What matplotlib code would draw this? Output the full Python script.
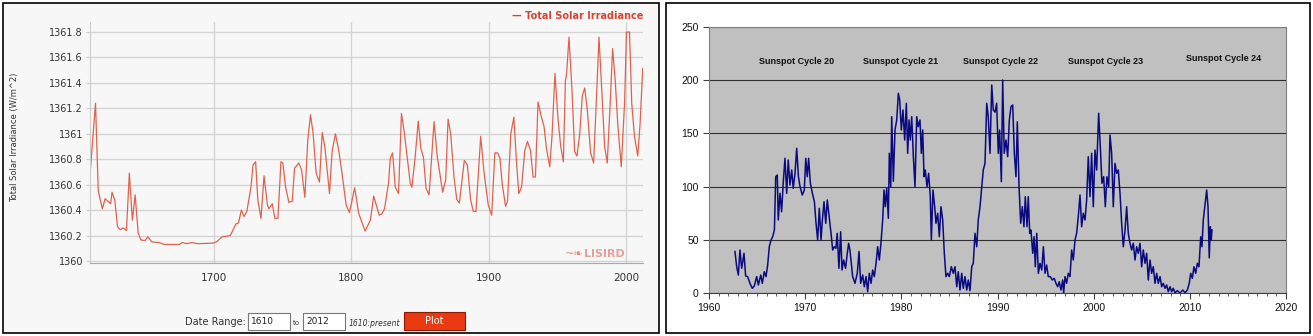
import matplotlib
matplotlib.use("Agg")
import matplotlib.pyplot as plt
from matplotlib.patches import Rectangle
from matplotlib.ticker import MultipleLocator, FuncFormatter

# ---- left panel: total solar irradiance (LISIRD) ----
tsi_year = [1610, 1614, 1616, 1619, 1621, 1623, 1625, 1626, 1628, 1630, 1632, 1634, 1636.5,
            1638.6, 1640.8, 1642.8, 1645, 1647, 1650, 1652, 1655, 1660, 1664, 1670, 1675,
            1677, 1680, 1684, 1689, 1699, 1702, 1706, 1710, 1712, 1716, 1718, 1720, 1722,
            1724, 1727, 1728.5, 1730.4, 1732, 1734.3, 1736.5, 1739, 1740, 1742.5, 1744.4,
            1746.6, 1748.8, 1750.2, 1752.2, 1754.6, 1757, 1758.7, 1761.8, 1763.8, 1766.2,
            1768.3, 1770.3, 1772.2, 1774.4, 1776.8, 1778.8, 1780.7, 1784.1, 1786, 1788.4,
            1790.8, 1793.2, 1796.2, 1798.6, 1802.4, 1805.3, 1810, 1813.8, 1816.2, 1820.3,
            1822.2, 1824.1, 1827, 1828.3, 1830, 1831.9, 1834.3, 1836.4, 1838.6, 1842.8,
            1844, 1846.4, 1848.6, 1850.5, 1852.4, 1854.3, 1856.5, 1860.1, 1862.5, 1866.4,
            1868.6, 1870.3, 1872.2, 1874.6, 1876.6, 1878.5, 1882.1, 1884.3, 1886.7, 1888.6,
            1890.6, 1894, 1896.4, 1899.5, 1902, 1904.3, 1906.3, 1908, 1909.6, 1912.1,
            1913.5, 1915.9, 1918.1, 1920.1, 1921.7, 1923.7, 1926.1, 1928, 1930.2, 1932.1,
            1933.8, 1935.7, 1938.2, 1940.1, 1941.8, 1944.2, 1945.9, 1948, 1950.2, 1952.2,
            1954.1, 1955.6, 1956.5, 1958.2, 1960.4, 1962.3, 1964, 1966, 1967.9, 1969.6,
            1971.5, 1973.9, 1976.1, 1978, 1980, 1982.1, 1984.1, 1986, 1988.2, 1989.9,
            1991.8, 1993.7, 1996.2, 1998.6, 2000, 2002.2, 2003.8, 2005.8, 2008.2, 2009.9,
            2011.8]
tsi_val = [1360.68, 1361.24, 1360.55, 1360.41, 1360.49, 1360.47, 1360.45, 1360.54, 1360.48,
           1360.27, 1360.245, 1360.26, 1360.24, 1360.69, 1360.32, 1360.52, 1360.22, 1360.165,
           1360.16, 1360.19, 1360.15, 1360.145, 1360.13, 1360.13, 1360.13, 1360.145, 1360.136,
           1360.144, 1360.136, 1360.14, 1360.15, 1360.19, 1360.196, 1360.2, 1360.29, 1360.30,
           1360.40, 1360.35, 1360.39, 1360.58, 1360.755, 1360.78, 1360.48, 1360.335, 1360.67,
           1360.44, 1360.41, 1360.45, 1360.335, 1360.335, 1360.78, 1360.77, 1360.58, 1360.46,
           1360.47, 1360.73, 1360.77, 1360.715, 1360.50, 1360.95, 1361.15, 1361.00, 1360.69,
           1360.62, 1361.01, 1360.90, 1360.53, 1360.86, 1361.00, 1360.87, 1360.69, 1360.44,
           1360.38, 1360.575, 1360.375, 1360.235, 1360.32, 1360.51, 1360.36, 1360.37, 1360.41,
           1360.61, 1360.81, 1360.85, 1360.58, 1360.53, 1361.16, 1361.00, 1360.61, 1360.58,
           1360.82, 1361.10, 1360.885, 1360.815, 1360.57, 1360.52, 1361.095, 1360.815, 1360.54,
           1360.64, 1361.115, 1361.00, 1360.66, 1360.485, 1360.455, 1360.79, 1360.755, 1360.48,
           1360.39, 1360.39, 1360.98, 1360.70, 1360.44, 1360.36, 1360.85, 1360.85, 1360.81,
           1360.61, 1360.43, 1360.47, 1361.00, 1361.13, 1360.77, 1360.53, 1360.58, 1360.87,
           1360.94, 1360.87, 1360.66, 1360.66, 1361.25, 1361.13, 1361.055, 1360.885, 1360.74,
           1360.99, 1361.475, 1361.12, 1360.90, 1360.78, 1361.42, 1361.475, 1361.76, 1361.34,
           1360.86, 1360.825, 1361.00, 1361.30, 1361.36, 1361.19, 1360.85, 1360.77, 1361.24,
           1361.76, 1361.33, 1360.90, 1360.77, 1361.25, 1361.67, 1361.42, 1361.07, 1360.74,
           1361.24, 1361.80, 1361.80, 1361.24, 1360.98, 1360.825, 1361.08, 1361.515]
tsi_ticks_y = [1360, 1360.2, 1360.4, 1360.6, 1360.8, 1361, 1361.2, 1361.4, 1361.6, 1361.8]
tsi_ticks_x = [1700, 1800, 1900, 2000]

# ---- right panel: monthly sunspot number ----
ss_year = [1962.70, 1962.88, 1963.05, 1963.22, 1963.40, 1963.64, 1963.81, 1964.02, 1964.26,
           1964.50, 1964.71, 1964.96, 1965.13, 1965.38, 1965.54, 1965.75, 1965.93, 1966.10,
           1966.27, 1966.45, 1966.62, 1966.80, 1966.94, 1967.10, 1967.20, 1967.38, 1967.55,
           1967.73, 1967.90, 1968.08, 1968.24, 1968.42, 1968.60, 1968.76, 1968.94, 1969.12,
           1969.30, 1969.47, 1969.70, 1969.91, 1970.06, 1970.22, 1970.36, 1970.54, 1970.75,
           1970.96, 1971.13, 1971.30, 1971.47, 1971.65, 1971.79, 1971.96, 1972.14, 1972.30,
           1972.48, 1972.69, 1972.86, 1973.03, 1973.20, 1973.33, 1973.51, 1973.69, 1973.83,
           1974.00, 1974.20, 1974.38, 1974.52, 1974.66, 1974.94, 1975.18, 1975.42, 1975.60,
           1975.77, 1975.98, 1976.15, 1976.33, 1976.50, 1976.67, 1976.85, 1977.02, 1977.19,
           1977.37, 1977.54, 1977.71, 1977.88, 1978.06, 1978.20, 1978.33, 1978.48, 1978.65,
           1978.75, 1978.90, 1979.00, 1979.17, 1979.34, 1979.52, 1979.69, 1979.83, 1980.00,
           1980.17, 1980.35, 1980.52, 1980.66, 1980.80, 1980.93, 1981.08, 1981.25, 1981.42,
           1981.60, 1981.76, 1981.94, 1982.08, 1982.22, 1982.36, 1982.49, 1982.67, 1982.84,
           1983.01, 1983.12, 1983.29, 1983.47, 1983.60, 1983.78, 1983.95, 1984.12, 1984.30,
           1984.47, 1984.64, 1984.82, 1984.99, 1985.20, 1985.40, 1985.58, 1985.76, 1985.92,
           1986.10, 1986.28, 1986.44, 1986.62, 1986.80, 1986.96, 1987.14, 1987.32, 1987.48,
           1987.66, 1987.84, 1988.00, 1988.18, 1988.36, 1988.52, 1988.70, 1988.88, 1989.04,
           1989.22, 1989.40, 1989.56, 1989.74, 1989.91, 1990.08, 1990.22, 1990.40, 1990.54,
           1990.70, 1990.88, 1991.06, 1991.23, 1991.40, 1991.58, 1991.75, 1991.92, 1992.06,
           1992.24, 1992.41, 1992.58, 1992.75, 1992.89, 1993.07, 1993.20, 1993.35, 1993.48,
           1993.66, 1993.80, 1993.93, 1994.08, 1994.25, 1994.42, 1994.60, 1994.77, 1994.94,
           1995.11, 1995.28, 1995.49, 1995.70, 1995.90, 1996.08, 1996.26, 1996.42, 1996.60,
           1996.78, 1996.88, 1997.02, 1997.19, 1997.36, 1997.54, 1997.71, 1997.88, 1998.06,
           1998.23, 1998.40, 1998.58, 1998.75, 1998.92, 1999.10, 1999.27, 1999.44, 1999.62,
           1999.79, 1999.96, 2000.14, 2000.31, 2000.52, 2000.69, 2000.86, 2001.04, 2001.21,
           2001.38, 2001.56, 2001.70, 2001.87, 2002.04, 2002.22, 2002.39, 2002.56, 2002.74,
           2002.91, 2003.08, 2003.26, 2003.43, 2003.60, 2003.78, 2003.95, 2004.12, 2004.30,
           2004.47, 2004.64, 2004.82, 2004.99, 2005.16, 2005.34, 2005.51, 2005.68, 2005.86,
           2006.03, 2006.20, 2006.38, 2006.55, 2006.72, 2006.90, 2007.07, 2007.24, 2007.42,
           2007.59, 2007.76, 2007.94, 2008.11, 2008.28, 2008.46, 2008.70, 2008.98, 2009.26,
           2009.50, 2009.74, 2009.94, 2010.09, 2010.26, 2010.43, 2010.61, 2010.78, 2010.95,
           2011.13, 2011.26, 2011.40, 2011.58, 2011.75, 2011.89, 2012.02, 2012.13, 2012.23,
           2012.30]
ss_val = [39.0, 24.7, 16.9, 40.4, 23.2, 37.3, 16.0, 15.4, 9.1,
          4.4, 6.6, 15.4, 7.5, 16.9, 9.1, 20.0, 15.4, 26.3,
          43.6, 49.8, 52.9, 59.2, 109.3, 110.9, 68.6, 93.7, 76.4,
          105.0, 126.6, 93.7, 125.0, 101.5, 115.6, 98.4, 112.2, 136.0,
          109.3, 99.9, 92.1, 96.8, 126.6, 109.3, 126.6, 103.1, 93.7,
          85.8, 65.5, 49.8, 79.6, 49.8, 68.6, 85.8, 65.5, 87.4,
          73.3, 56.1, 40.4, 43.5, 42.0, 56.1, 23.2, 57.6, 21.6,
          31.0, 23.2, 37.3, 46.7, 40.0, 15.4, 9.1, 18.5, 39.0,
          9.1, 16.9, 5.9, 15.4, 1.2, 18.5, 9.1, 21.6, 15.4,
          27.9, 43.5, 31.0, 46.7, 68.6, 96.8, 81.1, 98.4, 70.2,
          131.3, 99.9, 165.7, 105.0, 153.2, 162.6, 187.7, 181.4, 153.2,
          172.0, 143.8, 178.3, 131.3, 162.6, 143.8, 165.7, 128.1, 99.9,
          165.7, 156.3, 162.6, 131.3, 153.2, 109.3, 115.6, 99.9, 112.5,
          90.5, 49.8, 96.8, 81.1, 65.5, 74.9, 52.9, 81.1, 68.6,
          37.3, 15.4, 18.5, 15.4, 24.7, 18.5, 24.7, 5.9, 20.0,
          2.8, 18.5, 4.4, 15.4, 2.8, 12.2, 2.2, 24.7, 27.9,
          56.1, 43.5, 68.6, 81.1, 99.9, 115.6, 121.9, 178.3, 165.7,
          131.3, 195.5, 172.0, 170.0, 178.3, 131.3, 153.2, 104.6, 200.2,
          131.3, 143.8, 128.1, 162.6, 175.1, 176.7, 131.3, 109.3, 161.0,
          99.9, 65.5, 81.1, 62.3, 90.5, 62.3, 90.5, 56.1, 59.2,
          37.3, 52.9, 24.7, 56.1, 18.5, 27.9, 21.6, 43.5, 18.5,
          26.3, 15.4, 15.4, 12.2, 13.8, 9.1, 5.9, 10.6, 2.8,
          12.2, 0.0, 15.4, 9.1, 18.5, 15.4, 40.4, 31.0, 49.8,
          56.1, 71.7, 92.1, 62.3, 74.9, 68.6, 87.4, 128.1, 90.5,
          131.3, 81.1, 134.4, 115.6, 168.9, 137.5, 103.1, 109.3, 81.1,
          109.3, 99.9, 148.5, 131.3, 81.1, 121.9, 112.5, 115.6, 93.7,
          65.5, 43.5, 59.2, 81.1, 56.1, 46.7, 40.4, 46.7, 31.0,
          43.5, 37.3, 46.7, 24.7, 40.4, 27.9, 37.3, 12.2, 31.0,
          18.5, 24.7, 9.1, 18.5, 9.1, 15.4, 5.9, 9.1, 4.4,
          7.5, 1.2, 5.9, 1.2, 4.4, 0.3, 2.2, 0.0, 2.8,
          0.3, 2.8, 9.1, 18.5, 13.8, 24.7, 18.5, 27.9, 24.7,
          52.9, 43.5, 68.6, 82.7, 96.8, 81.1, 33.0, 62.3, 49.8,
          59.2]
cycle_names = ["Sunspot Cycle 20", "Sunspot Cycle 21", "Sunspot Cycle 22",
               "Sunspot Cycle 23", "Sunspot Cycle 24"]
cycle_x = [1969.1, 1979.9, 1990.3, 2001.2, 2013.5]
cycle_y = [218, 218, 218, 218, 220]

W, H = 1313, 336
fig = plt.figure(figsize=(W / 100, H / 100), dpi=100)
fig.patch.set_facecolor("white")

# panel frames (behind the axes)
fig.patches.append(Rectangle((3 / W, 3 / H), 656 / W, 330 / H, transform=fig.transFigure,
                             facecolor="#f7f7f7", edgecolor="black", lw=1.2, zorder=-5))
fig.patches.append(Rectangle((666 / W, 3 / H), 644 / W, 330 / H, transform=fig.transFigure,
                             facecolor="white", edgecolor="black", lw=1.2, zorder=-5))

# ---------- left chart ----------
ax1 = fig.add_axes([90 / W, 1 - 263 / H, 553 / W, 241 / H])
ax1.set_zorder(2)
ax1.set_facecolor("#f7f7f7")
ax1.plot(tsi_year, tsi_val, color="#e0624c", lw=0.9)
ax1.set_xlim(1610, 2012)
ax1.set_ylim(1359.984, 1361.879)
ax1.set_yticks(tsi_ticks_y)
ax1.set_xticks(tsi_ticks_x)
ax1.yaxis.set_major_formatter(FuncFormatter(lambda v, p: "%g" % round(v, 1)))
ax1.grid(True, color="#d4d4d4", lw=1)
ax1.set_axisbelow(True)
for s in ["top", "right"]:
    ax1.spines[s].set_visible(False)
ax1.spines["left"].set_color("#cccccc")
ax1.spines["bottom"].set_color("#aaaaaa")
ax1.tick_params(axis="y", length=3, color="#cccccc", labelsize=7, labelcolor="#333333",
                pad=2)
ax1.tick_params(axis="x", length=0, labelsize=7.5, labelcolor="#333333", pad=7)

fig.text(15 / W, 1 - 137 / H, "Total Solar Irradiance (W/m^2)", rotation=90,
         ha="center", va="center", fontsize=6, color="#333333")
fig.text(643 / W, 1 - 16 / H, "\u2014 Total Solar Irradiance", ha="right", va="center",
         fontsize=7, fontweight="bold", color="#d9432f")
fig.text(583 / W, 1 - 254 / H, "~\u2767", ha="right", va="center", fontsize=8,
         color="#e08a7a", zorder=5)
fig.text(584 / W, 1 - 254 / H, "LISIRD", ha="left", va="center", fontsize=8,
         fontweight="bold", color="#e3a295", zorder=5)

# date range controls
fig.text(246 / W, 1 - 322 / H, "Date Range:", ha="right", va="center", fontsize=7,
         color="#333333")
for x0, x1, txt in [(248, 290, "1610"), (303, 345, "2012")]:
    fig.patches.append(Rectangle((x0 / W, 1 - 330 / H), (x1 - x0) / W, 17 / H,
                                 transform=fig.transFigure, facecolor="white",
                                 edgecolor="#777777", lw=0.8))
    fig.text((x0 + 3) / W, 1 - 322 / H, txt, ha="left", va="center", fontsize=6.5,
             color="#222222")
fig.text(296 / W, 1 - 323 / H, "to", ha="center", va="center", fontsize=5,
         color="#333333")
fig.text(349 / W, 1 - 323 / H, "1610:present", ha="left", va="center", fontsize=5.5,
         style="italic", color="#333333")
fig.patches.append(Rectangle((404 / W, 1 - 330 / H), 61 / W, 18 / H,
                             transform=fig.transFigure, facecolor="#ea3a12",
                             edgecolor="#8a1a00", lw=0.8))
fig.text(434.5 / W, 1 - 321 / H, "Plot", ha="center", va="center", fontsize=7,
         color="white")

# ---------- right chart ----------
ax2 = fig.add_axes([709 / W, 1 - 293 / H, 577 / W, 266 / H])
ax2.set_zorder(2)
ax2.set_facecolor("#c0c0c0")
ax2.plot(ss_year, ss_val, color="#0a0a80", lw=1.1)
ax2.set_xlim(1960, 2020)
ax2.set_ylim(0, 250)
ax2.xaxis.set_major_locator(MultipleLocator(10))
ax2.xaxis.set_minor_locator(MultipleLocator(1))
ax2.yaxis.set_major_locator(MultipleLocator(50))
ax2.yaxis.grid(True, color="#303030", lw=0.8)
ax2.set_axisbelow(True)
for s in ax2.spines.values():
    s.set_color("#808080")
ax2.spines["bottom"].set_color("#404040")
ax2.tick_params(axis="both", which="major", length=4, color="#404040", labelsize=7.5,
                labelcolor="#111111", labelfontfamily="Liberation Sans")
ax2.tick_params(axis="x", which="minor", length=2.5, color="#404040")
for name, cx, cy in zip(cycle_names, cycle_x, cycle_y):
    ax2.text(cx, cy, name, ha="center", va="center", fontsize=6.5, fontweight="bold",
             family="Liberation Sans", color="#111111")

fig.savefig("out.png", dpi=100)
